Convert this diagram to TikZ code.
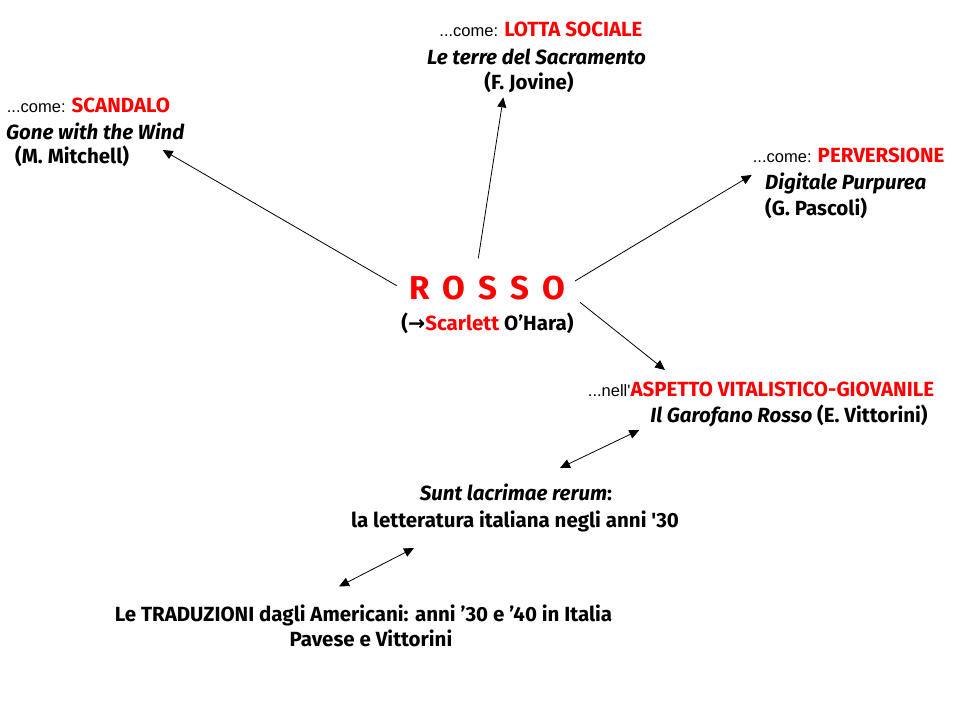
\documentclass[tikz,border=0pt]{standalone}
\usepackage{fontspec}
\setmainfont{Fira Sans}
\newfontfamily\arialfont{Liberation Sans}
\newfontfamily\dejavufont{DejaVu Sans}
\usepackage{tikz}
\usetikzlibrary{positioning}
\usetikzlibrary{arrows.meta}
\newcommand{\comeword}[1]{{\arialfont\mdseries\fontsize{16.5}{18}\selectfont #1}}
\newcommand{\redword}[1]{\textcolor{red}{#1}}

\begin{document}
\begin{tikzpicture}[x=1pt,y=-1pt,
  lbl/.style={anchor=base,inner sep=0pt,font=\bfseries\fontsize{20.5}{24}\selectfont},
  lblw/.style={lbl,anchor=base west},
  arr/.style={-{Triangle[length=10pt,width=9pt]},line width=0.8pt},
  dblarr/.style={{Triangle[length=10pt,width=9pt]}-{Triangle[length=10pt,width=9pt]},line width=0.8pt}]
 \useasboundingbox (0,0) rectangle (959,719);
 \node[lbl] (lotta) at (541,36.5) {\comeword{...come: }\redword{LOTTA SOCIALE}};
 \node[lbl] (terre) at (536.5,65) {\itshape Le terre del Sacramento};
 \node[lbl] (jovine) at (529,90) {(F. Jovine)};
 \node[lblw] (scandalo) at (6.7,113) {\comeword{...come: }\redword{SCANDALO}};
 \node[lblw] (gone) at (6,140) {\itshape Gone with the Wind};
 \node[lblw] (mitchell) at (15,164) {(M. Mitchell)};
 \node[lblw] (perversione) at (752.7,163) {\comeword{...come: }\redword{PERVERSIONE}};
 \node[lblw] (digitale) at (765,190) {\itshape Digitale Purpurea};
 \node[lblw] (pascoli) at (765,216) {(G. Pascoli)};
 \node[lbl,font=\bfseries\fontsize{33}{36}\selectfont,red] (rosso) at (487,300) {R\hspace{13pt}O\hspace{13pt}S\hspace{13pt}S\hspace{13pt}O};
 \node[lbl] (scarlett) at (487.5,331) {({\dejavufont\bfseries →}\redword{Scarlett} O’Hara)};
 \node[lbl] (aspetto) at (761,396) {\comeword{...nell\textquotesingle}\redword{ASPETTO VITALISTICO-GIOVANILE}};
 \node[lbl] (garofano) at (789,422) {\textit{Il Garofano Rosso} (E. Vittorini)};
 \node[lbl] (sunt) at (516,500) {\textit{Sunt lacrimae rerum}:};
 \node[lbl] (letteratura) at (515,527) {la letteratura italiana negli anni \textquotesingle30};
 \node[lbl] (traduzioni) at (363.5,621) {Le TRADUZIONI dagli Americani: anni ’30 e ’40 in Italia};
 \node[lbl] (pavese) at (371,646) {Pavese e Vittorini};
 \coordinate (r1) at (396.7,285.7);
 \coordinate (r2) at (478.3,258.3);
 \coordinate (r3) at (575,281);
 \coordinate (r4) at (580,302.3);
 \coordinate (t1) at (162.7,150);
 \coordinate (t2) at (503.3,97.3);
 \coordinate (t3) at (751.7,175);
 \coordinate (t4) at (665,370);
 \coordinate (d1) at (639.3,430);
 \coordinate (d2) at (560,468);
 \coordinate (d3) at (414,548);
 \coordinate (d4) at (339,586.5);
 \draw[arr] (r1) -- (t1);
 \draw[arr] (r2) -- (t2);
 \draw[arr] (r3) -- (t3);
 \draw[arr] (r4) -- (t4);
 \draw[dblarr] (d2) -- (d1);
 \draw[dblarr] (d4) -- (d3);
\end{tikzpicture}
\end{document}
